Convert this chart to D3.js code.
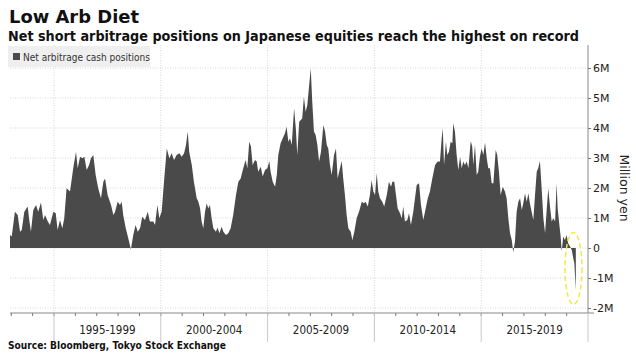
<!DOCTYPE html>
<html>
<head>
<meta charset="utf-8">
<script src="https://cdn.jsdelivr.net/npm/d3@7"></script>
<style>
  html, body { margin: 0; padding: 0; background: #fff; }
  svg { display: block; font-family: "Liberation Sans", Arial, sans-serif; }
</style>
</head>
<body>
<div id="chart"></div>
<script>
// =========================
// Low Arb Diet - area chart
// =========================

// --- Data (decimal years, million yen) ---
const years = [
  1992.94, 1993.02, 1993.17, 1993.30, 1993.41, 1993.49, 1993.61, 1993.77, 1993.83, 1993.92,
  1994.03, 1994.16, 1994.26, 1994.39, 1994.50, 1994.58, 1994.71, 1994.81, 1994.97, 1995.08,
  1995.17, 1995.28, 1995.39, 1995.48, 1995.59, 1995.75, 1995.90, 1996.03, 1996.11, 1996.22,
  1996.33, 1996.42, 1996.53, 1996.64, 1996.73, 1996.84, 1996.95, 1997.07, 1997.20, 1997.31,
  1997.39, 1997.51, 1997.67, 1997.78, 1997.86, 1997.98, 1998.09, 1998.17, 1998.24, 1998.36,
  1998.48, 1998.60, 1998.71, 1998.82, 1998.92, 1999.03, 1999.13, 1999.26, 1999.39, 1999.49,
  1999.65, 1999.73, 1999.84, 1999.93, 2000.04, 2000.15, 2000.28, 2000.40, 2000.51, 2000.62,
  2000.74, 2000.87, 2000.98, 2001.09, 2001.18, 2001.26, 2001.33, 2001.45, 2001.55, 2001.68,
  2001.76, 2001.84, 2001.91, 2001.99, 2002.07, 2002.15, 2002.22, 2002.30, 2002.38, 2002.46,
  2002.58, 2002.66, 2002.74, 2002.85, 2002.93, 2003.05, 2003.16, 2003.27, 2003.39, 2003.52,
  2003.63, 2003.74, 2003.86, 2003.97, 2004.05, 2004.14, 2004.22, 2004.30, 2004.41, 2004.49,
  2004.56, 2004.68, 2004.77, 2004.88, 2004.99, 2005.08, 2005.14, 2005.24, 2005.35, 2005.43,
  2005.50, 2005.61, 2005.71, 2005.81, 2005.89, 2005.97, 2006.05, 2006.13, 2006.24, 2006.32,
  2006.39, 2006.48, 2006.62, 2006.70, 2006.78, 2006.86, 2006.94, 2007.02, 2007.09, 2007.17,
  2007.25, 2007.33, 2007.41, 2007.50, 2007.61, 2007.69, 2007.77, 2007.84, 2007.92, 2008.00,
  2008.11, 2008.20, 2008.28, 2008.39, 2008.47, 2008.54, 2008.62, 2008.70, 2008.78, 2008.89,
  2008.97, 2009.06, 2009.17, 2009.28, 2009.41, 2009.51, 2009.59, 2009.69, 2009.79, 2009.87,
  2009.95, 2010.03, 2010.11, 2010.18, 2010.26, 2010.37, 2010.46, 2010.58, 2010.68, 2010.78,
  2010.84, 2010.93, 2011.01, 2011.09, 2011.20, 2011.28, 2011.35, 2011.43, 2011.54, 2011.62,
  2011.71, 2011.82, 2011.90, 2011.98, 2012.09, 2012.18, 2012.29, 2012.40, 2012.50, 2012.60,
  2012.71, 2012.84, 2012.96, 2013.07, 2013.15, 2013.20, 2013.26, 2013.35, 2013.41, 2013.49,
  2013.57, 2013.65, 2013.69, 2013.77, 2013.85, 2013.93, 2014.01, 2014.09, 2014.16, 2014.24,
  2014.32, 2014.40, 2014.51, 2014.58, 2014.63, 2014.71, 2014.79, 2014.86, 2014.94, 2015.02,
  2015.10, 2015.18, 2015.26, 2015.33, 2015.41, 2015.49, 2015.57, 2015.68, 2015.75, 2015.83,
  2015.91, 2016.01, 2016.11, 2016.19, 2016.27, 2016.35, 2016.43, 2016.50, 2016.58, 2016.66,
  2016.74, 2016.82, 2016.90, 2016.97, 2017.05, 2017.13, 2017.21, 2017.28, 2017.36, 2017.44,
  2017.52, 2017.60, 2017.67, 2017.75, 2017.83, 2017.91, 2017.99, 2018.07, 2018.14, 2018.22,
  2018.30, 2018.38, 2018.46, 2018.53, 2018.58, 2018.66, 2018.72, 2018.77, 2018.84, 2018.92,
  2019.00, 2019.07, 2019.16, 2019.24, 2019.31, 2019.36, 2019.39, 2019.43
];

const netPositions = [
  0.43, 0.38, 1.21, 1.10, 0.54, 0.60, 1.21, 1.38, 0.99, 0.54,
  1.27, 1.43, 1.21, 1.52, 0.93, 1.10, 0.88, 0.77, 1.21, 1.16,
  0.60, 0.93, 0.66, 0.99, 1.99, 1.88, 2.66, 3.21, 2.66, 3.04,
  2.99, 3.04, 2.60, 2.77, 2.99, 3.10, 2.43, 1.99, 1.66, 2.21,
  2.32, 1.77, 1.43, 1.10, 1.21, 1.54, 1.43, 1.54, 1.10, 0.66,
  0.32, -0.05, 0.43, 0.77, 0.54, 0.66, 1.04, 0.93, 1.21, 0.88,
  0.88, 0.77, 1.43, 0.99, 1.21, 2.21, 3.32, 2.99, 3.16, 2.93,
  3.10, 3.16, 3.04, 3.16, 3.43, 3.88, 3.21, 2.77, 2.21, 1.66,
  1.54, 1.32, 0.88, 0.66, 1.21, 1.49, 1.32, 1.43, 0.99, 0.66,
  0.54, 0.68, 0.49, 0.71, 0.54, 0.43, 0.49, 0.66, 1.10, 1.77,
  2.21, 2.32, 2.66, 2.93, 2.66, 3.54, 3.38, 2.77, 2.93, 2.88,
  2.54, 2.71, 2.38, 2.60, 2.66, 2.90, 2.54, 2.21, 2.04, 2.43,
  3.10, 3.49, 3.66, 3.82, 4.04, 3.54, 3.66, 3.43, 4.66, 3.99,
  3.10, 4.21, 4.32, 5.04, 4.54, 4.77, 5.38, 5.99, 4.88, 3.88,
  3.77, 3.43, 2.88, 3.21, 4.10, 3.88, 3.43, 3.32, 2.77, 2.43,
  3.10, 3.32, 2.32, 2.66, 2.90, 2.32, 1.77, 1.10, 0.66, 0.54,
  0.27, 0.54, 0.99, 1.21, 1.54, 1.49, 1.54, 1.38, 1.77, 2.27,
  1.88, 1.77, 2.49, 1.88, 1.66, 1.54, 1.38, 1.77, 2.21, 2.04,
  2.21, 2.21, 1.77, 1.32, 1.16, 0.99, 1.38, 0.88, 0.93, 1.16,
  0.77, 1.21, 1.66, 2.10, 2.16, 1.43, 0.93, 1.32, 1.66, 1.88,
  2.32, 2.77, 2.88, 2.88, 3.66, 3.99, 2.77, 3.54, 3.10, 3.21,
  3.54, 3.49, 4.16, 3.88, 3.10, 2.60, 3.04, 2.66, 2.88, 2.77,
  2.88, 2.66, 3.57, 3.38, 2.77, 3.43, 2.43, 2.54, 3.04, 3.32,
  3.10, 3.52, 2.99, 2.66, 2.66, 2.16, 2.16, 3.27, 3.10, 2.54,
  1.77, 2.04, 1.88, 1.66, 0.99, 0.49, 0.27, -0.14, 0.21, 1.21,
  1.54, 1.66, 1.27, 1.49, 1.82, 1.54, 1.82, 1.49, 1.21, 0.93,
  1.77, 2.54, 2.66, 2.90, 1.99, 0.99, 0.49, 1.32, 1.99, 1.38,
  0.88, 0.99, 0.88, 2.16, 1.32, 0.77, 0.38, -0.12, 0.38, 0.27,
  0.43, 0.16, 0.05, -0.07, -0.34, -0.51, -0.90, -1.40
];

const yTicks = [-2, -1, 0, 1, 2, 3, 4, 5, 6];
const periodStarts = [1995, 2000, 2005, 2010, 2015];
const periodLabels = ["1995-1999", "2000-2004", "2005-2009", "2010-2014", "2015-2019"];
const yearTicks = d3.range(1993, 2020);

// highlighted record low (year, value)
const highlight = { year: 2019.32, value: -0.68 };

document.addEventListener("DOMContentLoaded", function() {

  const width = 636;
  const height = 354;

  const data = years.map((yr, i) => ({ year: yr, value: netPositions[i] }));

  const svg = d3.select("#chart")
    .append("svg")
    .attr("width", width)
    .attr("height", height);

  // --- Scales ---
  const plotLeft = 10, plotRight = 588, plotTop = 45, axisY = 313;

  const x = d3.scaleLinear()
    .domain([1992.94, 2020])
    .range([plotLeft, plotRight]);

  const y = d3.scaleLinear()
    .domain([-2, 6])
    .range([308, 68]);

  // --- Grid ---
  svg.append("g")
    .selectAll("line")
    .data(yTicks)
    .enter()
    .append("line")
    .attr("x1", plotLeft)
    .attr("x2", plotRight)
    .attr("y1", d => y(d))
    .attr("y2", d => y(d))
    .attr("stroke", "#d8d8d8")
    .attr("stroke-width", 1)
    .attr("stroke-dasharray", "1,1.5");

  svg.append("g")
    .selectAll("line")
    .data(periodStarts)
    .enter()
    .append("line")
    .attr("x1", d => x(d))
    .attr("x2", d => x(d))
    .attr("y1", plotTop)
    .attr("y2", axisY)
    .attr("stroke", "#d8d8d8")
    .attr("stroke-width", 1)
    .attr("stroke-dasharray", "1,1.5");

  // --- Area ---
  const area = d3.area()
    .x(d => x(d.year))
    .y0(y(0))
    .y1(d => y(d.value));

  svg.append("path")
    .datum(data)
    .attr("d", area)
    .attr("fill", "#4a4a4a");

  // --- Right axis ---
  const yAxis = d3.axisRight(y)
    .tickValues(yTicks)
    .tickSize(3)
    .tickPadding(2)
    .tickFormat(d => d === 0 ? "0" : d + "M");

  const yg = svg.append("g")
    .attr("transform", `translate(${plotRight},0)`)
    .call(yAxis);
  yg.select(".domain").remove();
  yg.selectAll("line").attr("stroke", "#777");
  yg.selectAll("text")
    .attr("fill", "#222")
    .style("font-size", "11px")
    .style("font-family", "'DejaVu Sans', sans-serif");

  svg.append("line")
    .attr("x1", plotRight).attr("x2", plotRight)
    .attr("y1", plotTop).attr("y2", axisY)
    .attr("stroke", "#888");

  svg.append("text")
    .attr("transform", `translate(620,${y(2)}) rotate(90)`)
    .attr("text-anchor", "middle")
    .attr("fill", "#222")
    .style("font-size", "12.5px")
    .style("font-family", "'DejaVu Sans', sans-serif")
    .text("Million yen");

  // --- Bottom axis ---
  svg.append("line")
    .attr("x1", plotLeft).attr("x2", plotRight + 6)
    .attr("y1", axisY).attr("y2", axisY)
    .attr("stroke", "#888");

  svg.append("g")
    .selectAll("line")
    .data(yearTicks)
    .enter()
    .append("line")
    .attr("x1", d => x(d)).attr("x2", d => x(d))
    .attr("y1", axisY).attr("y2", axisY + 3)
    .attr("stroke", "#777");

  svg.append("g")
    .selectAll("line")
    .data(periodStarts.concat([2020]))
    .enter()
    .append("line")
    .attr("x1", d => x(d)).attr("x2", d => x(d))
    .attr("y1", axisY).attr("y2", 342)
    .attr("stroke", "#c8c8c8");

  svg.append("g")
    .selectAll("text")
    .data(periodLabels)
    .enter()
    .append("text")
    .attr("x", (d, i) => (x(periodStarts[i]) + x(periodStarts[i] + 5)) / 2)
    .attr("y", 334)
    .attr("text-anchor", "middle")
    .attr("fill", "#222")
    .style("font-size", "11.5px")
    .style("font-family", "'DejaVu Sans Condensed', 'DejaVu Sans', sans-serif")
    .text(d => d);

  // --- Highlight ellipse ---
  svg.append("ellipse")
    .attr("cx", x(highlight.year))
    .attr("cy", y(highlight.value))
    .attr("rx", 8.5)
    .attr("ry", 36)
    .attr("fill", "none")
    .attr("stroke", "#f2e84a")
    .attr("stroke-width", 1.5)
    .attr("stroke-dasharray", "5,3");

  // --- Legend ---
  svg.append("rect")
    .attr("x", 8).attr("y", 46)
    .attr("width", 142).attr("height", 21)
    .attr("fill", "#efefef");

  svg.append("rect")
    .attr("x", 13).attr("y", 53)
    .attr("width", 7).attr("height", 7)
    .attr("fill", "#4a4a4a");

  svg.append("text")
    .attr("x", 23).attr("y", 60.5)
    .attr("fill", "#333")
    .style("font-size", "10px")
    .style("font-family", "'DejaVu Sans Condensed', 'DejaVu Sans', sans-serif")
    .text("Net arbitrage cash positions");

  // --- Titles ---
  svg.append("text")
    .attr("x", 9).attr("y", 23)
    .attr("fill", "#111")
    .style("font-size", "18px")
    .style("font-weight", "bold")
    .style("font-family", "'DejaVu Sans', sans-serif")
    .attr("textLength", 130)
    .attr("lengthAdjust", "spacingAndGlyphs")
    .text("Low Arb Diet");

  svg.append("text")
    .attr("x", 8).attr("y", 41)
    .attr("fill", "#111")
    .style("font-size", "14px")
    .style("font-weight", "bold")
    .style("font-family", "'DejaVu Sans', sans-serif")
    .attr("textLength", 571)
    .attr("lengthAdjust", "spacingAndGlyphs")
    .text("Net short arbitrage positions on Japanese equities reach the highest on record");

  svg.append("text")
    .attr("x", 8).attr("y", 349)
    .attr("fill", "#111")
    .style("font-size", "10px")
    .style("font-weight", "bold")
    .style("font-family", "'DejaVu Sans', sans-serif")
    .attr("textLength", 218)
    .attr("lengthAdjust", "spacingAndGlyphs")
    .text("Source: Bloomberg, Tokyo Stock Exchange");
});
</script>
</body>
</html>
